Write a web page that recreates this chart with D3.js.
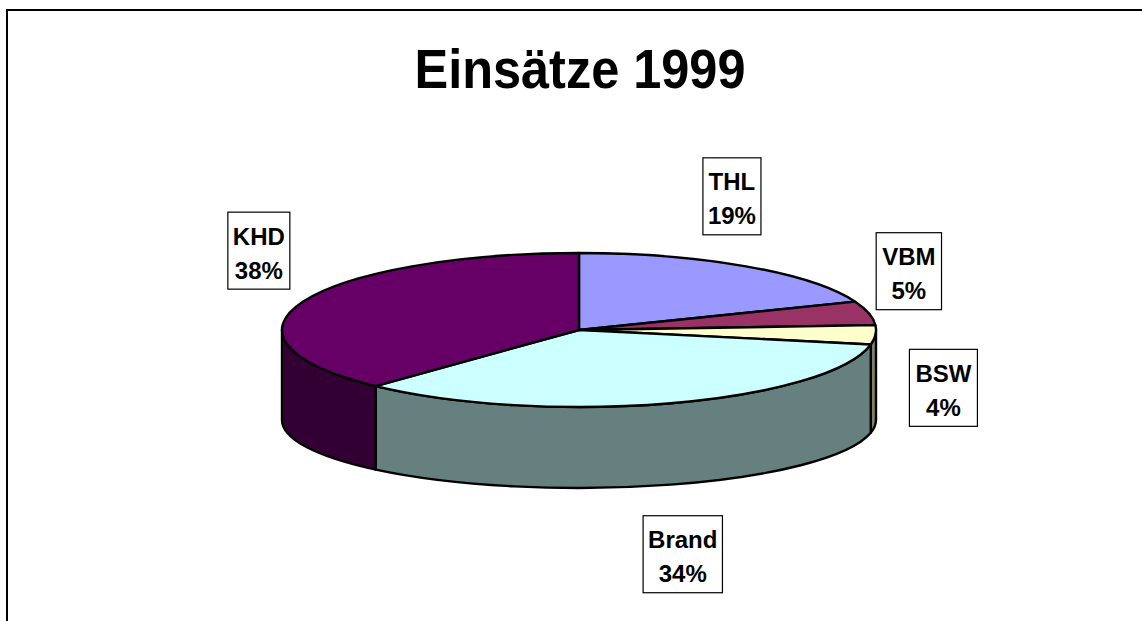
<!DOCTYPE html>
<html>
<head>
<meta charset="utf-8">
<script src="https://cdn.jsdelivr.net/npm/d3@7"></script>
<style>
  html, body { margin: 0; padding: 0; background: #fff; }
  svg { display: block; }
  text { font-family: Arial, "Liberation Sans", sans-serif; font-weight: bold; fill: #000; }
</style>
</head>
<body>
<svg id="chart" width="1142" height="621"></svg>
<script>
// ---- data ----
const title = "Einsätze 1999";
const categories = ["THL", "VBM", "BSW", "Brand", "KHD"];
const values = [19, 5, 4, 34, 38];
const percentLabels = ["19%", "5%", "4%", "34%", "38%"];
const topColors = ["#9999FF", "#993366", "#FFFFCC", "#CCFFFF", "#660066"];
const sideColors = ["#4D4D80", "#4D1A33", "#808066", "#668080", "#330033"];

// ---- layout / style ----
const W = 1142, H = 621;
const cx = 579, cy = 330, rx = 297, ry = 77;   // top ellipse
const cy2 = 420, ry2 = 68;                     // bottom ellipse
const labelOffsets = [[-14, -70], [40, -42], [68, 53], [12, 151], [-44, -51]];
const boxPad = [5, 6, 6, 5, 5];

const svg = d3.select("#chart");

// frame
svg.append("rect").attr("x", 7).attr("y", 10).attr("width", W + 50).attr("height", H + 50)
  .attr("fill", "none").attr("stroke", "#000").attr("stroke-width", 2);

// title
svg.append("text").attr("x", 580).attr("y", 88).attr("text-anchor", "middle")
  .attr("font-size", 56).attr("textLength", 331).attr("lengthAdjust", "spacingAndGlyphs")
  .text(title);

const pie = d3.pie().sort(null).value(d => d).startAngle(0).endAngle(2 * Math.PI);
const arcs = pie(values);

const topPt = a => [cx + rx * Math.sin(a), cy - ry * Math.cos(a)];
const botPt = a => [cx + rx * Math.sin(a), cy2 - ry2 * Math.cos(a)];

const g = svg.append("g");

// side walls (front half only: PI/2 .. 3PI/2)
arcs.forEach((d, i) => {
  const a = Math.max(d.startAngle, Math.PI / 2);
  const b = Math.min(d.endAngle, 3 * Math.PI / 2);
  if (b <= a) return;
  const p0 = topPt(a), p1 = topPt(b), q1 = botPt(b), q0 = botPt(a);
  const path = `M${p0[0]},${p0[1]} A${rx},${ry} 0 0 1 ${p1[0]},${p1[1]} L${q1[0]},${q1[1]} A${rx},${ry2} 0 0 0 ${q0[0]},${q0[1]} Z`;
  g.append("path").attr("d", path).attr("fill", sideColors[i])
    .attr("stroke", "#000").attr("stroke-width", 2.4).attr("stroke-linejoin", "round");
});

// top faces
arcs.forEach((d, i) => {
  const p0 = topPt(d.startAngle), p1 = topPt(d.endAngle);
  const large = (d.endAngle - d.startAngle) > Math.PI ? 1 : 0;
  const path = `M${cx},${cy} L${p0[0]},${p0[1]} A${rx},${ry} 0 ${large} 1 ${p1[0]},${p1[1]} Z`;
  g.append("path").attr("d", path).attr("fill", topColors[i])
    .attr("stroke", "#000").attr("stroke-width", 2.4).attr("stroke-linejoin", "round");
});

// labels
const lg = svg.append("g");
arcs.forEach((d, i) => {
  const mid = (d.startAngle + d.endAngle) / 2;
  const anchor = topPt(mid);
  const lx = anchor[0] + labelOffsets[i][0];
  const ly = anchor[1] + labelOffsets[i][1];
  const grp = lg.append("g");
  const box = grp.append("rect");
  const t1 = grp.append("text").attr("x", lx).attr("y", ly - 6).attr("text-anchor", "middle")
    .attr("font-size", 24).text(categories[i]);
  const t2 = grp.append("text").attr("x", lx).attr("y", ly + 28).attr("text-anchor", "middle")
    .attr("font-size", 24).text(percentLabels[i]);
  const w = Math.max(t1.node().getComputedTextLength(), t2.node().getComputedTextLength()) + 2 * boxPad[i];
  box.attr("x", lx - w / 2).attr("y", ly - 38.5).attr("width", w).attr("height", 77)
    .attr("fill", "#fff").attr("stroke", "#000").attr("stroke-width", 1.2);
});
</script>
</body>
</html>
